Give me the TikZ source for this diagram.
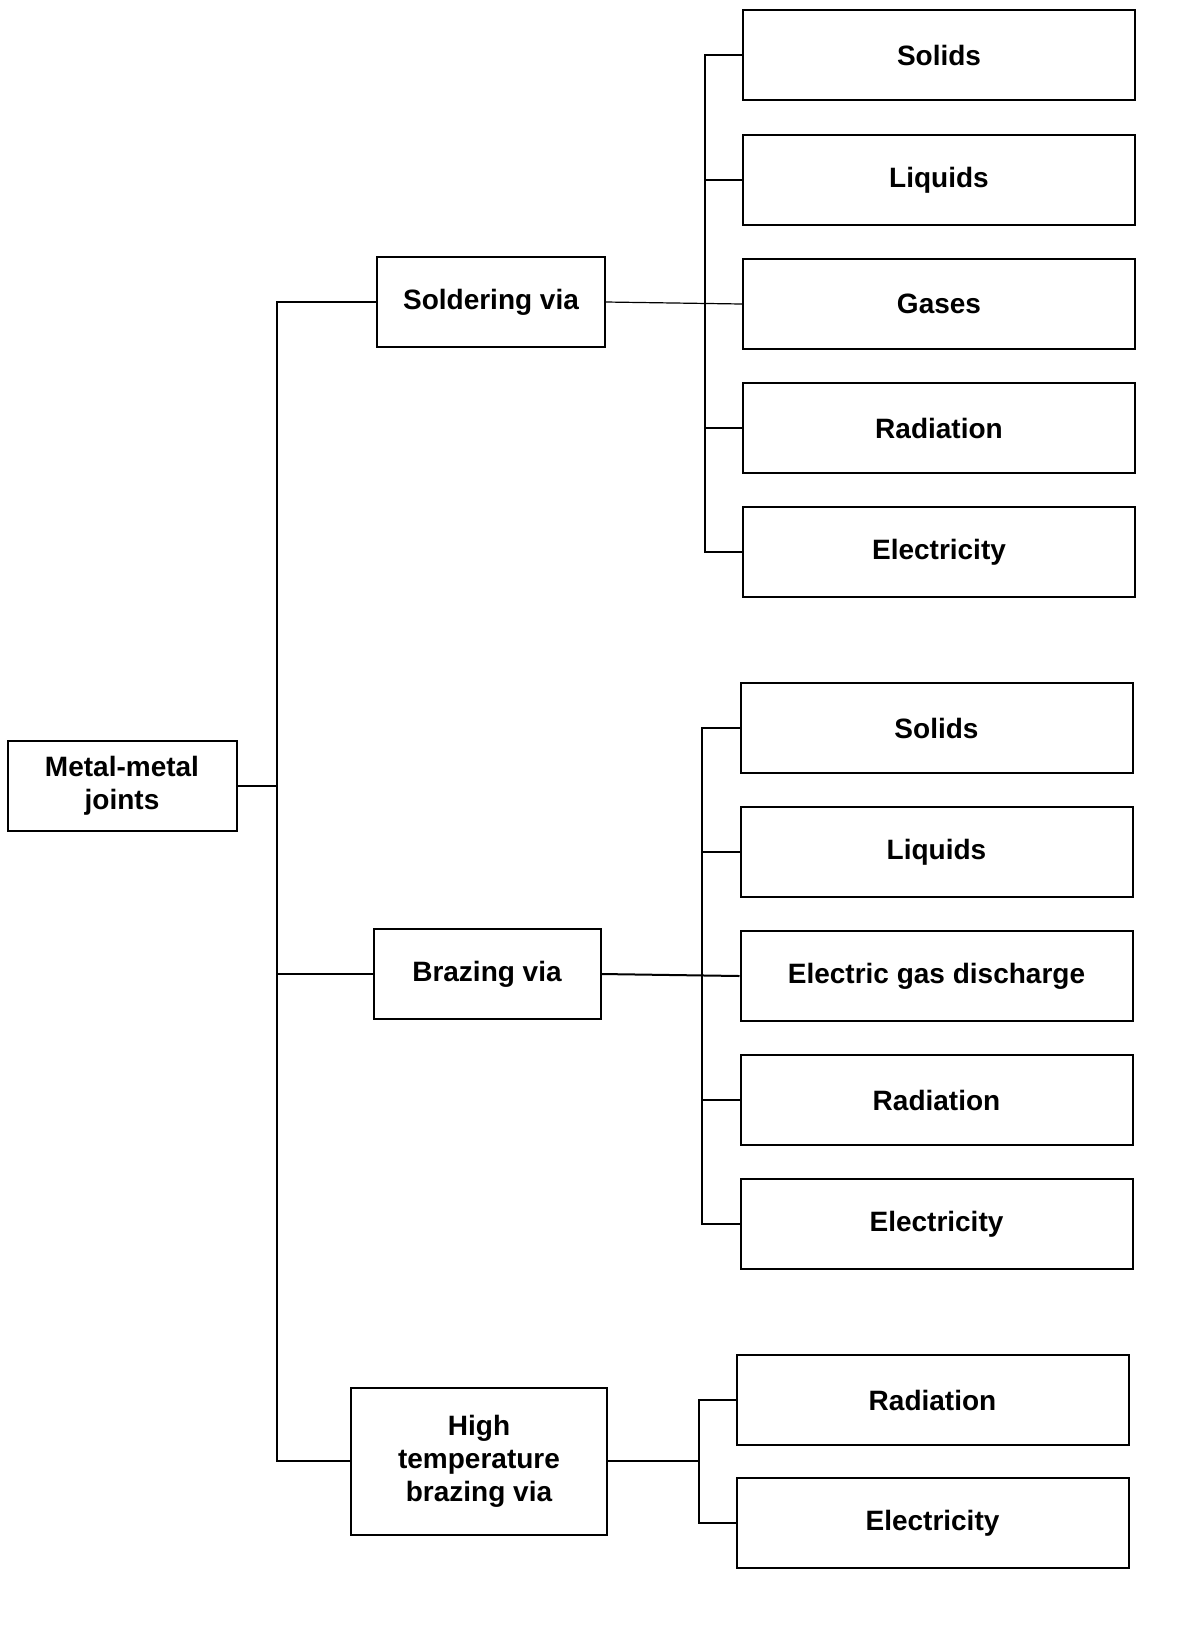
\documentclass[tikz,border=0pt]{standalone}
\usepackage{fontspec}
\setmainfont{Liberation Sans}
\usetikzlibrary{positioning}

\begin{document}
\begin{tikzpicture}[x=0.5pt, y=-0.5pt,
  box/.style={draw, line width=1pt, minimum height=45pt, align=center, inner sep=2pt,
    font=\fontsize{14}{16.5}\selectfont\bfseries},
  leaf/.style={box, minimum width=196pt},
  link/.style={line width=1pt}]
  \useasboundingbox (0,0) rectangle (1196,1651);

  % root and the three ways
  \node[box, minimum width=114.5pt] (joints) at (122,786) {Metal-metal\\joints};
  \node[box, minimum width=114pt] (soldering) at (491,302) {Soldering via};
  \node[box, minimum width=113.5pt] (brazing) at (487,974) {Brazing via};
  \node[box, minimum width=128pt, minimum height=73.5pt] (hightemp) at (479,1461) {High\\temperature\\brazing via};

  \coordinate (trunk) at (277,786);
  \draw[link] (joints.east) -- (trunk);
  \draw[link] (soldering.west) -- (soldering.west -| trunk) -- (hightemp.west -| trunk) -- (hightemp.west);
  \draw[link] (brazing.west) -- (brazing.west -| trunk);

  % soldering
  \foreach \n/\txt/\y in {1/Solids/55, 2/Liquids/180, 3/Gases/304, 4/Radiation/428, 5/Electricity/552}
    \node[leaf] (s\n) at (939,\y) {\txt};
  \coordinate (sbus) at (705,302);
  \draw[line width=0.6pt] (soldering.east) -- (s3.west);
  \draw[link] (s1.west) -- (s1.west -| sbus) -- (s5.west -| sbus) -- (s5.west);
  \foreach \n in {2,4}
    \draw[link] (s\n.west) -- (s\n.west -| sbus);

  % brazing
  \foreach \n/\txt/\y in {1/Solids/728, 2/Liquids/852, 3/Electric gas discharge/976, 4/Radiation/1100, 5/Electricity/1224}
    \node[leaf] (b\n) at (936.5,\y) {\txt};
  \coordinate (bbus) at (702,974);
  \draw[link] (brazing.east) -- (b3.west);
  \draw[link] (b1.west) -- (b1.west -| bbus) -- (b5.west -| bbus) -- (b5.west);
  \foreach \n in {2,4}
    \draw[link] (b\n.west) -- (b\n.west -| bbus);

  % high temperature brazing
  \node[leaf] (h1) at (932.5,1400) {Radiation};
  \node[leaf] (h2) at (932.5,1523) {Electricity};
  \coordinate (hbus) at (699,1461);
  \draw[link] (hightemp.east) -- (hbus);
  \draw[link] (h1.west) -- (h1.west -| hbus) -- (h2.west -| hbus) -- (h2.west);
\end{tikzpicture}
\end{document}
